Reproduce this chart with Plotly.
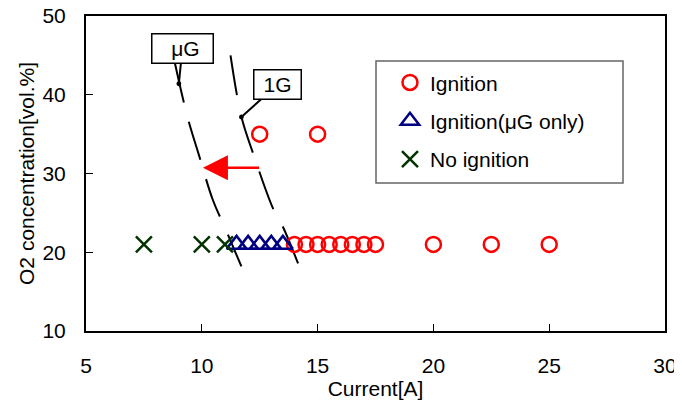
import plotly.graph_objects as go

# ---- data ----
ign_x = [12.5, 15.0, 14.0, 14.5, 15.0, 15.5, 16.0, 16.5, 17.0, 17.5, 20.0, 22.5, 25.0]
ign_y = [35, 35, 21, 21, 21, 21, 21, 21, 21, 21, 21, 21, 21]

ign_ug_x = [11.5, 12.0, 12.5, 13.0, 13.5]
ign_ug_y = [21, 21, 21, 21, 21]

noign_x = [7.5, 10.0, 11.0]
noign_y = [21, 21, 21]

# boundary curves (dashed)
ug_bx = [8.84, 9.38, 9.87, 10.47, 11.03, 11.71]
ug_by = [44.0, 37.2, 32.4, 26.7, 22.9, 18.2]
g1_bx = [11.24, 11.71, 12.21, 13.10, 13.49, 14.18]
g1_by = [45.0, 37.2, 32.6, 25.4, 23.3, 18.4]

FONT = "Liberation Sans, Arial, sans-serif"
FS = 21

fig = go.Figure()

fig.add_trace(go.Scatter(x=ug_bx, y=ug_by, mode="lines", showlegend=False,
                         line=dict(color="black", width=2, dash="40px,20px", shape="spline"),
                         hoverinfo="skip"))
fig.add_trace(go.Scatter(x=g1_bx, y=g1_by, mode="lines", showlegend=False,
                         line=dict(color="black", width=2, dash="40px,20px", shape="spline"),
                         hoverinfo="skip"))

fig.add_trace(go.Scatter(x=ign_x, y=ign_y, mode="markers", name="Ignition", legendgroup="a",
                         marker=dict(symbol="circle-open", size=15, color="#FF0000",
                                     line=dict(width=2.5, color="#FF0000"))))
fig.add_trace(go.Scatter(x=ign_ug_x, y=ign_ug_y, mode="markers", name="Ignition(μG only)", legendgroup="b",
                         marker=dict(symbol="triangle-up-open", size=17, color="#000080",
                                     line=dict(width=2.5, color="#000080"))))
fig.add_trace(go.Scatter(x=noign_x, y=noign_y, mode="markers", name="No ignition", legendgroup="c",
                         marker=dict(symbol="x-thin-open", size=16, color="#003300",
                                     line=dict(width=2.5, color="#003300"))))

annotations = [
    dict(x=9.01, y=41.4, xref="x", yref="y", text=" μG", showarrow=True,
         ax=3.5, ay=-35.5, arrowhead=6, arrowsize=0.6, arrowwidth=2, arrowcolor="black",
         font=dict(family=FONT, size=FS, color="black"),
         bordercolor="black", borderwidth=1.5, bgcolor="white", width=58, height=26),
    dict(x=11.71, y=37.17, xref="x", yref="y", text="1G", showarrow=True,
         ax=35.8, ay=-32.3, arrowhead=6, arrowsize=0.6, arrowwidth=2, arrowcolor="black",
         font=dict(family=FONT, size=FS, color="black"),
         bordercolor="black", borderwidth=1.5, bgcolor="white", width=44, height=26),
    dict(x=10.05, y=30.72, xref="x", yref="y", ax=12.54, ay=30.72, axref="x", ayref="y",
         text="", showarrow=True, arrowhead=2, arrowsize=2.0, arrowwidth=2.5, arrowcolor="#FF0000"),
]

# the page body adds an 8px offset, so margins are reduced accordingly
fig.update_layout(
    width=682, height=403,
    margin=dict(l=78, r=25, t=8, b=80),
    paper_bgcolor="white", plot_bgcolor="white",
    font=dict(family=FONT, size=FS, color="black"),
    showlegend=True,
    legend=dict(x=0.525, y=0.853, xanchor="left", yanchor="top",
                bgcolor="rgba(0,0,0,0)", borderwidth=0,
                font=dict(family=FONT, size=FS, color="black"),
                tracegroupgap=8, traceorder="grouped"),
    annotations=annotations,
    shapes=[dict(type="rect", xref="paper", yref="paper",
                 x0=(376 - 86) / 579, x1=(623 - 86) / 579,
                 y0=(331 - 183) / 315, y1=(331 - 61) / 315,
                 line=dict(color="#666666", width=1.5), layer="below")],
)

fig.update_xaxes(range=[5, 30], dtick=5, tick0=5, showgrid=False, zeroline=False,
                 showline=True, mirror=True, linecolor="black", linewidth=2,
                 ticks="inside", ticklen=7, tickwidth=1, tickcolor="black",
                 ticklabelstandoff=15, automargin=False, ticklabeloverflow="allow",
                 title=dict(text="Current[A]", standoff=0, font=dict(size=FS)))
fig.update_yaxes(range=[10, 50], dtick=10, tick0=10, showgrid=False, zeroline=False,
                 showline=True, mirror=True, linecolor="black", linewidth=2,
                 ticks="inside", ticklen=7, tickwidth=1, tickcolor="black",
                 ticklabelstandoff=14, automargin=False, ticklabeloverflow="allow",
                 title=dict(text="O2 concentration[vol.%]", standoff=2, font=dict(size=FS)))

fig.write_html("out.html")
